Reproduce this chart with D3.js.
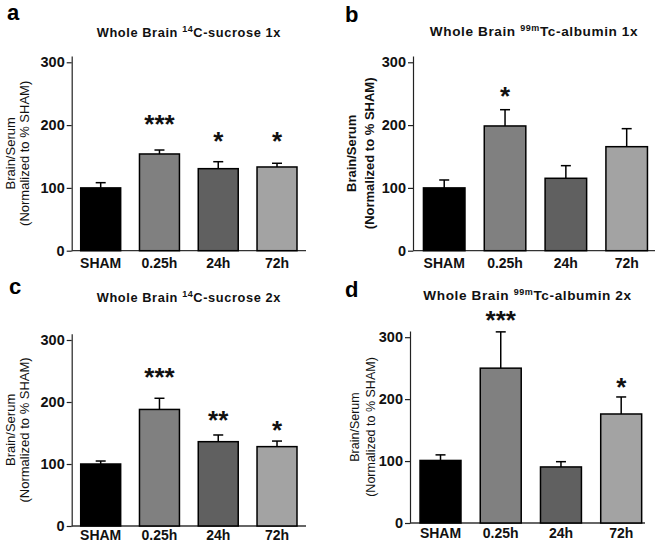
<!DOCTYPE html>
<html><head><meta charset="utf-8">
<script src="https://cdn.jsdelivr.net/npm/d3@7"></script>
<style>
body{margin:0;background:#fff;}
svg{display:block;font-family:"Liberation Sans",Arial,sans-serif;}
</style></head>
<body>
<svg id="chart" width="660" height="542"></svg>
<script>
const categories = ["SHAM", "0.25h", "24h", "72h"];
const barColors = ["#000000", "#808080", "#606060", "#a3a3a3"];
const yTicks = [0, 100, 200, 300];

// Panel a: Whole Brain 14C-sucrose 1x
const meanA = [100, 154, 130.6, 133.3];
const errA  = [108.3, 160.3, 141.7, 139.2];
const starsA = ["", "***", "*", "*"];
const starLevelA = [null, 211, 184, 184];

// Panel b: Whole Brain 99mTc-albumin 1x
const meanB = [100, 198.6, 115.3, 165.6];
const errB  = [112.6, 224.5, 135.4, 194.3];
const starsB = ["", "*", "", ""];
const starLevelB = [null, 256, null, null];

// Panel c: Whole Brain 14C-sucrose 2x
const meanC = [100, 188, 136, 128];
const errC  = [104.8, 206, 146.8, 137];
const starsC = ["", "***", "**", "*"];
const starLevelC = [null, 250, 181, 164.5];

// Panel d: Whole Brain 99mTc-albumin 2x
const meanD = [101, 250, 90.5, 176];
const errD  = [110, 308.6, 99, 203.5];
const starsD = ["", "***", "", "*"];
const starLevelD = [null, 337, null, 229];

const svg = d3.select("#chart");

const panels = [
  {letter:"a", iso:"14", rest:"C-sucrose 1x", mean:meanA, err:errA, stars:starsA, lvl:starLevelA,
   ax:71.7, y0:250.7, yTop:56, xEnd:306, band:[71.3,306.4], pad:0.32, bold:false,
   letterPos:[7,20], titleY:37, titleFs:12.8, lab:[15,29], labFs:13, catDy:17},
  {letter:"b", iso:"99m", rest:"Tc-albumin 1x", mean:meanB, err:errB, stars:starsB, lvl:starLevelB,
   ax:413, y0:250.7, yTop:56, xEnd:655, band:[413.8,657.1], pad:0.317, bold:true,
   letterPos:[345,22], titleY:36, titleFs:13.6, lab:[356,374], labFs:13, catDy:17},
  {letter:"c", iso:"14", rest:"C-sucrose 2x", mean:meanC, err:errC, stars:starsC, lvl:starLevelC,
   ax:71.7, y0:526, yTop:333.8, xEnd:306, band:[71.3,306.4], pad:0.32, bold:false,
   letterPos:[9,294], titleY:302, titleFs:12.8, lab:[15,29], labFs:13, catDy:14},
  {letter:"d", iso:"99m", rest:"Tc-albumin 2x", mean:meanD, err:errD, stars:starsD, lvl:starLevelD,
   ax:410, y0:523, yTop:331, xEnd:645, band:[410.4,651.3], pad:0.32, bold:false,
   letterPos:[345,297], titleY:300, titleFs:13.6, lab:[359,375], labFs:12.5, catDy:15}
];

panels.forEach(p => {
  const g = svg.append("g");
  const y = d3.scaleLinear().domain([0, 310]).range([p.y0, p.yTop]);
  const x = d3.scaleBand().domain(categories).range(p.band)
    .paddingInner(p.pad).paddingOuter(p.pad/2);

  // panel letter
  g.append("text").attr("x", p.letterPos[0]).attr("y", p.letterPos[1])
    .attr("font-size", 22).attr("font-weight", "bold").text(p.letter);

  // title
  const cx = (p.ax + p.xEnd) / 2;
  const t = g.append("text").attr("x", cx).attr("y", p.titleY)
    .attr("text-anchor", "middle").attr("font-size", p.titleFs).attr("font-weight", "bold")
    .attr("letter-spacing", 0.6).attr("fill", "#111");
  t.append("tspan").text("Whole Brain ");
  t.append("tspan").attr("font-size", 9).attr("dy", -5).text(p.iso);
  t.append("tspan").attr("dy", 5).text(p.rest);

  // y axis
  const yAxis = d3.axisLeft(y).tickValues(yTicks).tickSize(5).tickPadding(2).tickSizeOuter(0);
  const ga = g.append("g").attr("transform", `translate(${p.ax},0)`).call(yAxis);
  ga.select(".domain").attr("stroke", "#222").attr("stroke-width", 1.2);
  ga.selectAll(".tick line").attr("stroke", "#222").attr("stroke-width", 1.2);
  ga.selectAll(".tick text").attr("font-size", 14.5).attr("font-weight", "bold")
    .attr("font-family", "Liberation Sans, Arial, sans-serif").attr("fill", "#111");

  // x axis line
  g.append("line").attr("x1", p.ax).attr("x2", p.xEnd).attr("y1", p.y0).attr("y2", p.y0)
    .attr("stroke", "#333").attr("stroke-width", 1.3);

  // category labels
  g.selectAll(".cat").data(categories).join("text")
    .attr("x", d => x(d) + x.bandwidth()/2).attr("y", p.y0 + p.catDy)
    .attr("text-anchor", "middle").attr("font-size", 14).attr("font-weight", "bold")
    .attr("fill", "#111").text(d => d);

  // error bars
  const half = 5;
  categories.forEach((c, i) => {
    const mx = x(c) + x.bandwidth()/2;
    g.append("line").attr("x1", mx).attr("x2", mx).attr("y1", y(p.mean[i])).attr("y2", y(p.err[i]))
      .attr("stroke", "#000").attr("stroke-width", 1.5);
    g.append("line").attr("x1", mx - half).attr("x2", mx + half).attr("y1", y(p.err[i])).attr("y2", y(p.err[i]))
      .attr("stroke", "#000").attr("stroke-width", 1.5);
  });

  // bars
  g.selectAll(".bar").data(categories).join("rect")
    .attr("x", d => x(d)).attr("width", x.bandwidth())
    .attr("y", (d, i) => y(p.mean[i])).attr("height", (d, i) => p.y0 - y(p.mean[i]))
    .attr("fill", (d, i) => barColors[i]).attr("stroke", "#000").attr("stroke-width", 1.5);

  // stars
  const fs = 26;
  categories.forEach((c, i) => {
    if (!p.stars[i]) return;
    g.append("text").attr("x", x(c) + x.bandwidth()/2).attr("y", y(p.lvl[i]) + fs*0.57)
      .attr("text-anchor", "middle").attr("font-size", fs).attr("font-weight", "bold")
      .attr("fill", "#111").text(p.stars[i]);
  });

  // y label
  const ymid = (p.y0 + p.yTop) / 2;
  const lw = p.bold ? "bold" : "normal";
  g.append("text").attr("transform", `translate(${p.lab[0]},${ymid}) rotate(-90)`)
    .attr("text-anchor", "middle").attr("font-size", p.labFs).attr("font-weight", lw)
    .attr("fill", "#111").text("Brain/Serum");
  g.append("text").attr("transform", `translate(${p.lab[1]},${ymid}) rotate(-90)`)
    .attr("text-anchor", "middle").attr("font-size", p.labFs).attr("font-weight", lw)
    .attr("fill", "#111").text("(Normalized to % SHAM)");
});
</script>
</body></html>
